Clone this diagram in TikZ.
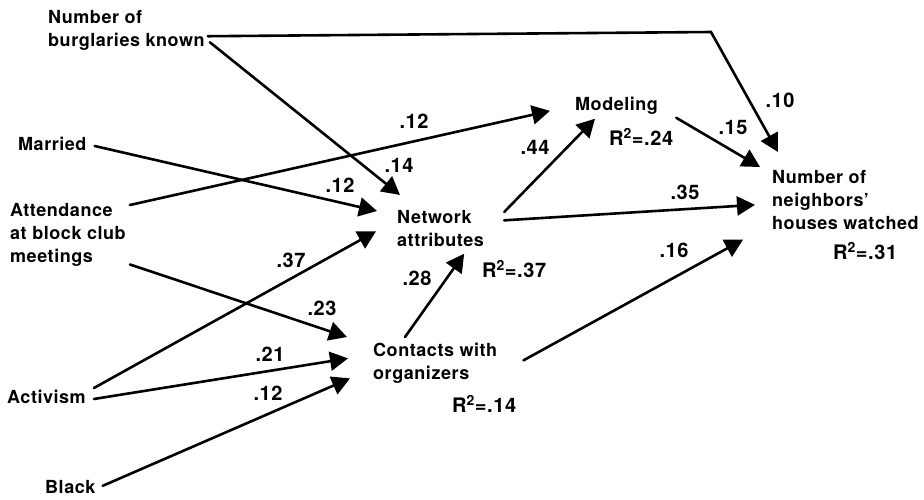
\documentclass[tikz,border=0pt]{standalone}
\usepackage{fontspec}
\setmainfont[LetterSpace=3]{TeX Gyre Heros}
\usetikzlibrary{arrows.meta}

\begin{document}
\begin{tikzpicture}[
  x=1pt,y=-1pt,
  var/.style={anchor=north west,inner sep=0pt,align=left,font=\fontsize{18}{23}\selectfont\bfseries},
  coef/.style={inner sep=0pt,font=\fontsize{20}{24}\selectfont\bfseries},
  rsq/.style={anchor=north west,inner sep=0pt,font=\fontsize{20}{24}\selectfont\bfseries},
  link/.style={line width=2.6pt,line cap=round,-{Triangle[length=18pt,width=19pt]}}
]
\useasboundingbox (0,0) rectangle (924,499);

% exogenous variables
\node[var] (burg) at (48,10) {Number of\\burglaries known};
\node[var] (married) at (18,137) {Married};
\node[var] (attend) at (10,203) {Attendance\\at block club\\meetings};
\node[var] (activism) at (7,390) {Activism};
\node[var] (black) at (45,480) {Black};

% mediators and outcome
\node[var] (net) at (397,210) {Network\\attributes};
\node[var] (model) at (575,97) {Modeling};
\node[var] (contact) at (373,343) {Contacts with\\organizers};
\node[var] (nbr) at (772,170) {Number of\\neighbors'\\houses watched};

\node[rsq] (rnet) at (482,260) {R\textsuperscript{2}=.37};
\node[rsq] (rmodel) at (609,128) {R\textsuperscript{2}=.24};
\node[rsq] (rcontact) at (452,395) {R\textsuperscript{2}=.14};
\node[rsq] (rnbr) at (833,242) {R\textsuperscript{2}=.31};

% path coefficients
\foreach \n/\x/\y/\v in {c1/780/100/.10,c2/733/127/.15,c3/685/192/.35,c4/674/250/.16,
    c5/535/147/.44,c6/414/121/.12,c7/399/165/.14,c8/340/185/.12,c9/291/260/.37,
    c10/322/308/.23,c11/270/354/.21,c12/268/393/.12,c13/417/278/.28}{
  \node[coef] (\n) at (\x,\y) {\v};
}

\coordinate (kink) at (711,32);

\draw[link] ([shift={(3,6)}]burg.east) -- (kink) -- ([shift={(6,-18)}]nbr.north west);
\draw[link] ([shift={(5,12)}]burg.east) -- ([shift={(3,-15)}]net.north west);
\draw[link] ([shift={(8,2)}]married.east) -- ([shift={(-20,1)}]net.north west);
\draw[link] ([shift={(4,2)}]attend.north east) -- ([shift={(-25,5)}]model.west);
\draw[link] ([shift={(4,-2)}]attend.south east) -- ([shift={(-26,-6)}]contact.north west);
\draw[link] ([shift={(8,-9)}]activism.east) -- ([shift={(-21,3)}]net.west);
\draw[link] ([shift={(8,2)}]activism.east) -- ([shift={(-25,-5)}]contact.west);
\draw[link] ([shift={(7,-1)}]black.east) -- ([shift={(-23,15)}]contact.west);
\draw[link] ([shift={(32,-6)}]contact.north west) -- ([shift={(-20,7)}]net.south east);
\draw[link] ([shift={(20,2)}]net.north east) -- ([shift={(20,4)}]model.south west);
\draw[link] ([shift={(20,-8)}]net.east) -- ([shift={(-17,5)}]nbr.west);
\draw[link] ([shift={(18,3)}]model.south east) -- ([shift={(-12,-3)}]nbr.north west);
\draw[link] ([shift={(26,-3)}]contact.east) -- ([shift={(-29,10)}]nbr.south west);

\end{tikzpicture}
\end{document}
